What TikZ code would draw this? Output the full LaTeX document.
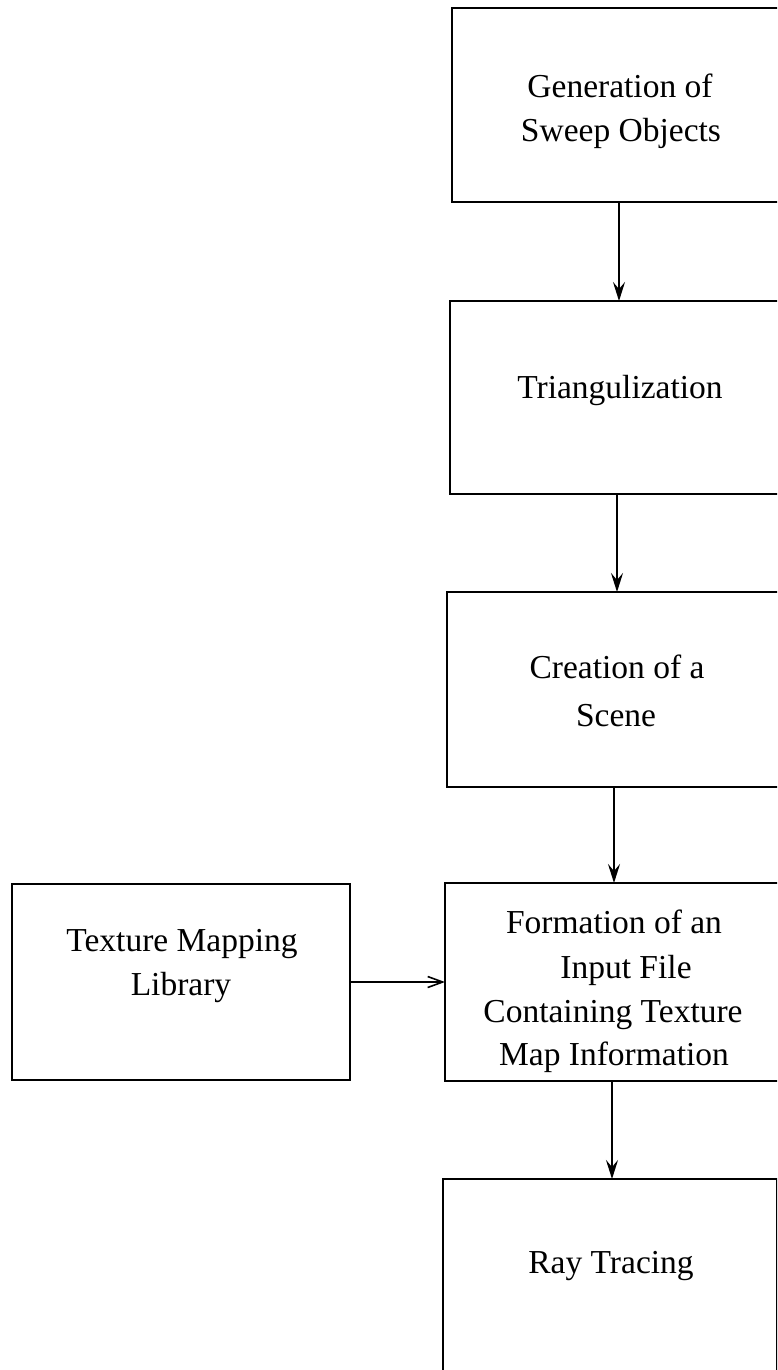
\documentclass[tikz,border=0pt]{standalone}
\usepackage{fontspec}
\setmainfont{Liberation Serif}
\usetikzlibrary{arrows.meta}
\begin{document}
\begin{tikzpicture}[x=1pt,y=-1pt,
  box/.style={draw=black,line width=2pt,rectangle,inner sep=0pt,outer sep=0pt,minimum width=334pt},
  lbl/.style={anchor=base,inner sep=0pt,font=\fontsize{33.5}{44}\selectfont},
  varrow/.style={line width=2.2pt,-{Stealth[length=19pt,width=12pt,inset=7pt]}},
  harrow/.style={line width=1.6pt,-{Straight Barb[length=15pt,width=11pt,line width=1.6pt]}}]
\clip (0,0) rectangle (777,1370);
\fill[white] (0,0) rectangle (777,1370);
% boxes
\node[box,minimum height=194pt] (b1) at (619,105) {};
\node[box,minimum height=193pt] (b2) at (617,397.5) {};
\node[box,minimum height=195pt] (b3) at (614,689.5) {};
\node[box,minimum height=198pt] (b4) at (612,982) {};
\node[box,minimum height=300pt] (b5) at (610,1329) {};
\node[box,minimum width=338pt,minimum height=196pt] (lb) at (181,982) {};
% texts
\node[lbl] (t1a) at (620,98) {Generation of};
\node[lbl] (t1b) at (621,142) {Sweep Objects};
\node[lbl] (t2) at (620,398) {Triangulization};
\node[lbl] (t3a) at (617,678) {Creation of a};
\node[lbl] (t3b) at (616,726) {Scene};
\node[lbl] (t4a) at (614,933) {Formation of an};
\node[lbl] (t4b) at (626,978) {Input File};
\node[lbl] (t4c) at (613,1022) {Containing Texture};
\node[lbl] (t4d) at (614,1065) {Map Information};
\node[lbl] (t5) at (611,1273) {Ray Tracing};
\node[lbl] (tla) at (182,951) {Texture Mapping};
\node[lbl] (tlb) at (181,995) {Library};
% connectors
\draw[varrow] (b1.south) -- (b1.south |- b2.north);
\draw[varrow] (b2.south) -- (b2.south |- b3.north);
\draw[varrow] (b3.south) -- (b3.south |- b4.north);
\draw[varrow] (b4.south) -- (b4.south |- b5.north);
\draw[harrow] (lb.east) -- (lb.east -| b4.west);
\end{tikzpicture}
\end{document}
